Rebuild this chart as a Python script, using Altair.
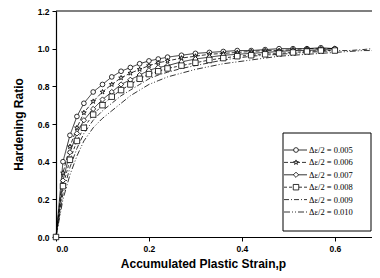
import altair as alt
import pandas as pd

# ---- data ----
labels = ["Δε/2 = 0.005", "Δε/2 = 0.006", "Δε/2 = 0.007",
          "Δε/2 = 0.008", "Δε/2 = 0.009", "Δε/2 = 0.010"]
x_main = [0, .015, .03, .045, .06, .08, .10, .12, .14, .16, .18, .20, .22,
          .24, .27, .30, .33, .36, .39, .42, .45, .48, .51, .54, .57, .60]
x_long = x_main + [.63, .66, .68]

s1 = [0, .40, .54, .64, .71, .77, .81, .85, .88, .90, .92, .935, .945, .955,
      .965, .975, .98, .985, .99, .99, .995, 1.0, 1.0, 1.0, 1.005, 1.0]
s2 = [0, .34, .48, .58, .66, .72, .77, .81, .845, .87, .89, .91, .925, .935,
      .95, .96, .97, .975, .98, .985, .99, .99, .995, 1.0, 1.0, 1.0]
s3 = [0, .30, .45, .55, .62, .68, .73, .77, .81, .835, .86, .885, .90, .91,
      .93, .945, .955, .965, .97, .975, .98, .985, .99, .99, .995, 1.0]
s4 = [0, .27, .41, .51, .58, .65, .70, .745, .78, .81, .84, .865, .88, .895,
      .91, .925, .94, .95, .96, .965, .97, .975, .98, .985, .99, .99]
s5 = [0, .23, .37, .47, .55, .62, .67, .71, .75, .78, .81, .84, .86, .875,
      .895, .91, .925, .94, .95, .96, .965, .97, .975, .98, .985, .99,
      .99, .995, 1.0]
s6 = [0, .20, .33, .43, .51, .58, .63, .67, .71, .75, .78, .81, .83, .85,
      .87, .89, .905, .92, .93, .94, .95, .96, .965, .97, .975, .98,
      .985, .99, .99]

series_y = [s1, s2, s3, s4, s5, s6]
series_x = [x_main, x_main, x_main, x_main, x_long, x_long]
x_ticks = [0.0, 0.2, 0.4, 0.6]
y_ticks = [0.0, 0.2, 0.4, 0.6, 0.8, 1.0, 1.2]
top_line = [1.2]

rows = []
for i, (xs_, ys_) in enumerate(zip(series_x, series_y)):
    for xv, yv in zip(xs_, ys_):
        rows.append({"series": labels[i], "x": xv, "y": yv, "marked": i < 4})
df = pd.DataFrame(rows)
leg_df = pd.DataFrame({"series": labels, "row": list(range(6)),
                       "marked": [True, True, True, True, False, False]})

star = ("M0,-1L0.22,-0.31L0.95,-0.31L0.36,0.12L0.59,0.81L0,0.38L-0.59,0.81"
        "L-0.36,0.12L-0.95,-0.31L-0.22,-0.31Z")
dash_scale = alt.Scale(domain=labels,
                       range=[[1, 0], [4, 2], [1, 0], [3, 2], [5, 2, 1, 2],
                              [6, 2, 1, 2, 1, 2]])
shape_scale = alt.Scale(domain=labels[:4],
                        range=["circle", star, "diamond", "square"])
size_scale = alt.Scale(domain=labels[:4], range=[22, 30, 36, 28])

x_axis = alt.Axis(values=x_ticks, format=".1f",
                  title="Accumulated Plastic Strain,p",
                  titleX=147, titleAlign="center", labelOverlap=False)
y_axis = alt.Axis(values=y_ticks, format=".1f", labelOverlap=False,
                  title="Hardening Ratio")
x_scale = alt.Scale(domain=[0, 0.68], nice=False)
y_scale = alt.Scale(domain=[0, 1.2], nice=False)

xs = alt.X("x:Q", scale=x_scale, axis=x_axis)
ys = alt.Y("y:Q", scale=y_scale, axis=y_axis)

lines = alt.Chart(df).mark_line(color="black", strokeWidth=0.8).encode(
    x=xs, y=ys,
    strokeDash=alt.StrokeDash("series:N", scale=dash_scale, legend=None),
    detail="series:N")
pts = alt.Chart(df).transform_filter("datum.marked").mark_point(
    filled=True, fill="white", stroke="black", strokeWidth=0.8, opacity=1
).encode(
    x=xs, y=ys,
    shape=alt.Shape("series:N", scale=shape_scale, legend=None),
    size=alt.Size("series:N", scale=size_scale, legend=None))
top = alt.Chart(pd.DataFrame({"y": top_line})).mark_rule(
    color="black", strokeWidth=1.2).encode(y=ys)

main = alt.layer(lines, pts, top)

ly = alt.Y("row:Q", scale=alt.Scale(domain=[0, 5], range=[139, 201]),
           axis=None)
box = alt.Chart(pd.DataFrame({"a": [0]})).mark_rect(
    fill="white", stroke="black", strokeWidth=1).encode(
    x=alt.value(227), x2=alt.value(315), y=alt.value(122), y2=alt.value(220))
leg_lines = alt.Chart(leg_df).mark_rule(color="black", strokeWidth=0.8).encode(
    x=alt.value(228), x2=alt.value(251), y=ly,
    strokeDash=alt.StrokeDash("series:N", scale=dash_scale, legend=None))
leg_pts = alt.Chart(leg_df).transform_filter("datum.marked").mark_point(
    filled=True, fill="white", stroke="black", strokeWidth=0.8, opacity=1
).encode(
    x=alt.value(240), y=ly,
    shape=alt.Shape("series:N", scale=shape_scale, legend=None),
    size=alt.Size("series:N", scale=size_scale, legend=None))
leg_text = alt.Chart(leg_df).mark_text(
    align="left", baseline="middle", font="Liberation Serif", fontSize=8.5,
    color="black").encode(x=alt.value(253), y=ly, text="series:N")

legend = alt.layer(box, leg_lines, leg_pts, leg_text)

chart = alt.layer(main, legend).resolve_scale(y="independent").properties(
    width=316, height=226,
    autosize=alt.AutoSizeParams(type="none"),
    padding={"left": 48, "top": 3, "right": 0, "bottom": 40},
).configure_view(stroke=None).configure_axis(
    domainColor="black", domainWidth=1.2, tickColor="black", tickSize=4,
    labelFont="Liberation Sans", labelFontWeight="bold", labelFontSize=8.5,
    labelColor="black", labelPadding=3, grid=False, labelOverlap=False,
    titleFont="Liberation Sans", titleFontWeight="bold", titleFontSize=12,
    titleColor="black",
).configure_axisX(titlePadding=6).configure_axisY(titlePadding=12)

chart.save("out.html", embed_options={"renderer": "svg", "actions": False})
